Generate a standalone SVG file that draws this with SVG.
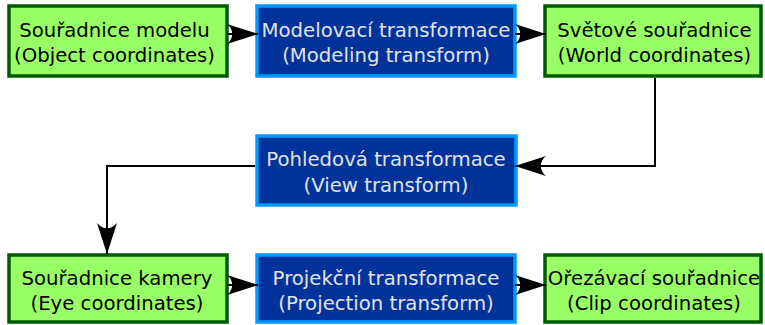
<svg xmlns="http://www.w3.org/2000/svg" width="765" height="325" viewBox="0 0 765 325">
  <style>
    .g rect { fill: #99ff66; stroke: #005a00; stroke-width: 3.5; }
    .b rect { fill: #003399; stroke: #0099ff; stroke-width: 3.5; }
    text { font-family: "DejaVu Sans", sans-serif; font-size: 19.7px; text-anchor: middle; }
    .g text { fill: #000000; }
    .b text { fill: #e2e2e2; }
    .conn path { fill: none; stroke: #000000; stroke-width: 2; marker-end: url(#arr); }
  </style>
  <defs>
    <marker id="arr" markerUnits="userSpaceOnUse" viewBox="-32 -11 33 22" markerWidth="33" markerHeight="22" refX="0" refY="0" orient="auto">
      <path d="M0,0 L-31,-10 C-24,-4 -24,4 -31,10 Z" fill="#000000"/>
    </marker>
  </defs>
  <rect width="765" height="325" fill="#ffffff"/>

  <g id="object-coords" class="g">
    <rect x="9" y="6" width="218" height="70"/>
    <text x="114.5" y="36.5">Souřadnice modelu</text>
    <text x="114.5" y="61.5">(Object coordinates)</text>
  </g>
  <g id="modeling-transform" class="b">
    <rect x="257" y="6" width="258" height="70"/>
    <text x="386" y="36.5">Modelovací transformace</text>
    <text x="386" y="61.5">(Modeling transform)</text>
  </g>
  <g id="world-coords" class="g">
    <rect x="545" y="6" width="216" height="70"/>
    <text x="654.5" y="36.5">Světové souřadnice</text>
    <text x="654.5" y="61.5">(World coordinates)</text>
  </g>
  <g id="view-transform" class="b">
    <rect x="257" y="136" width="259" height="69"/>
    <text x="386" y="166">Pohledová transformace</text>
    <text x="386" y="191.5">(View transform)</text>
  </g>
  <g id="eye-coords" class="g">
    <rect x="9" y="255" width="218" height="67"/>
    <text x="117" y="285">Souřadnice kamery</text>
    <text x="117" y="310">(Eye coordinates)</text>
  </g>
  <g id="projection-transform" class="b">
    <rect x="257" y="255" width="258" height="67"/>
    <text x="386" y="285">Projekční transformace</text>
    <text x="386" y="310">(Projection transform)</text>
  </g>
  <g id="clip-coords" class="g">
    <rect x="545" y="255" width="216" height="67"/>
    <text x="654" y="285">Ořezávací souřadnice</text>
    <text x="654" y="310">(Clip coordinates)</text>
  </g>

  <g id="connectors" class="conn">
    <path d="M227,34 L258,34"/>
    <path d="M515,34 L546,34"/>
    <path d="M655,78 V166 H515"/>
    <path d="M255,166 H107 V254"/>
    <path d="M227,285 L258,285"/>
    <path d="M515,285 L546,285"/>
  </g>
</svg>
